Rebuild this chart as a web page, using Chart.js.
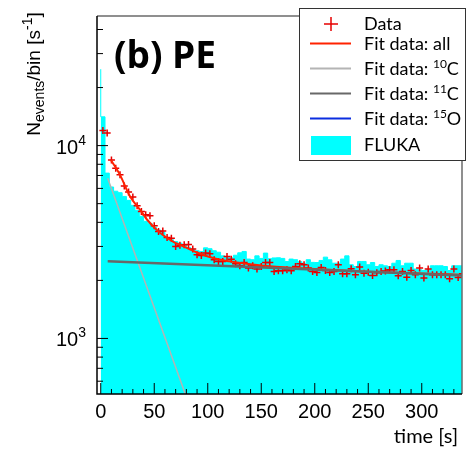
<!DOCTYPE html>
<html>
<head>
<meta charset="utf-8">
<script src="https://cdn.jsdelivr.net/npm/chart.js@4.4.0/dist/chart.umd.min.js"></script>
<style>
  html, body { margin: 0; padding: 0; background: #fff; }
  canvas { display: block; }
</style>
</head>
<body>
<canvas id="chart" width="475" height="449"></canvas>
<script>
// bin centres (s), bins are 4 s wide
const timeCenters = [2, 6, 10, 14, 18, 22, 26, 30, 34, 38, 42, 46, 50, 54, 58, 62, 66, 70, 74, 78,
  82, 86, 90, 94, 98, 102, 106, 110, 114, 118, 122, 126, 130, 134, 138, 142, 146, 150, 154, 158,
  162, 166, 170, 174, 178, 182, 186, 190, 194, 198, 202, 206, 210, 214, 218, 222, 226, 230, 234, 238,
  242, 246, 250, 254, 258, 262, 266, 270, 274, 278, 282, 286, 290, 294, 298, 302, 306, 310, 314, 318,
  322, 326, 330, 334, 338];

// FLUKA simulation histogram
const flukaCounts = [24900, 14100, 7200, 6100, 5800, 5700, 5450, 5200, 4900, 4600,
  4300, 4050, 3950, 3780, 3650, 3550, 3330, 3250, 3180, 3120,
  3050, 2960, 2900, 2850, 2820, 2950, 2920, 2850, 2800, 2680,
  2640, 2620, 2700, 2780, 2825, 2580, 2560, 2680, 2600, 2770,
  2590, 2615, 2620, 2600, 2507, 2580, 2560, 2500, 2450, 2560,
  2480, 2476, 2537, 2640, 2557, 2455, 2455, 2580, 2680, 2410,
  2361, 2507, 2507, 2410, 2476, 2361, 2410, 2380, 2361, 2455,
  2537, 2381, 2455, 2455, 2290, 2270, 2250, 2270, 2381, 2381,
  2381, 2361, 2250, 2381, 2381];

// measured data
const dataCounts = [11960, 11640, 8430, 7640, 7050, 6180, 5740, 5410, 4870, 4550,
  4375, 4325, 3845, 3580, 3610, 3335, 3310, 3000, 3040, 3060,
  3070, 2905, 2715, 2693, 2770, 2750, 2557, 2507, 2507, 2663,
  2577, 2438, 2381, 2476, 2317, 2381, 2290, 2361, 2476, 2476,
  2225, 2243, 2243, 2270, 2243, 2361, 2438, 2410, 2317, 2225,
  2199, 2333, 2251, 2199, 2225, 2410, 2163, 2163, 2297, 2138,
  2344, 2181, 2207, 2119, 2190, 2225, 2234, 2270, 2270, 2112,
  2225, 2078, 2251, 2138, 2317, 2055, 2290, 2138, 2138, 2138,
  2138, 2037, 2290, 2070, 2163];

// fit curves
const fitTime = [9.5, 18, 27, 38, 43, 54, 58, 68, 74, 90, 105, 120, 136, 167, 200, 250, 300, 338];
const fitAll = [8430, 7050, 5500, 4550, 4150, 3580, 3440, 3170, 3060, 2790, 2610, 2510, 2440, 2345, 2290, 2220, 2170, 2140];
const c10Time = [6.5, 79];
const c10Fit = [6780, 515];
const c11Time = [6.5, 338];
const c11Fit = [2515, 2120];
const o15Time = [];
const o15Fit = [];

const xLabels = [0, 50, 100, 150, 200, 250, 300];
const yLabels = [1000, 10000];
const binWidth = 4;

const pts = (xs, ys) => xs.map((x, i) => ({ x: x, y: ys[i] }));

// histogram as a stepped line through the left bin edges
const histPoints = timeCenters.map((t, i) => ({ x: t - binWidth / 2, y: flukaCounts[i] }));
histPoints.push({ x: timeCenters[timeCenters.length - 1] + binWidth / 2, y: flukaCounts[flukaCounts.length - 1] });

const SANS = '"Liberation Sans", Arial, sans-serif';
const CAL = 'Lato, "Open Sans", sans-serif';

function richText(ctx, parts, x, y, align) {
    let w = 0;
    parts.forEach(p => { ctx.font = p.font; w += ctx.measureText(p.t).width; });
    let cx = align === 'right' ? x - w : align === 'center' ? x - w / 2 : x;
    ctx.textAlign = 'left';
    ctx.textBaseline = 'alphabetic';
    parts.forEach(p => {
        ctx.font = p.font;
        ctx.fillText(p.t, cx, y + (p.dy || 0));
        cx += ctx.measureText(p.t).width;
    });
}

const decor = {
    id: 'decor',
    afterDraw(chart) {
        const ctx = chart.ctx;
        const a = chart.chartArea;
        const xs = chart.scales.x, ys = chart.scales.y;
        ctx.save();

        // frame (top/right)
        ctx.strokeStyle = '#6b6b6b';
        ctx.lineWidth = 1.5;
        ctx.beginPath();
        ctx.moveTo(a.left, a.top);
        ctx.lineTo(a.right, a.top);
        ctx.lineTo(a.right, a.bottom);
        ctx.stroke();

        // axes
        ctx.strokeStyle = '#000';
        ctx.lineWidth = 1.5;
        ctx.beginPath();
        ctx.moveTo(a.left, a.top);
        ctx.lineTo(a.left, a.bottom);
        ctx.lineTo(a.right, a.bottom);
        ctx.stroke();

        // inward ticks
        ctx.lineWidth = 1;
        ctx.beginPath();
        xs.ticks.forEach(t => {
            const px = xs.getPixelForValue(t.value);
            if (px < a.left || px > a.right) return;
            const len = t.value % 50 === 0 ? 11 : 5;
            ctx.moveTo(px, a.bottom);
            ctx.lineTo(px, a.bottom - len);
        });
        ys.ticks.forEach(t => {
            const e = Math.floor(Math.log10(t.value) + 1e-9);
            const m = t.value / Math.pow(10, e);
            if (Math.abs(m - Math.round(m)) > 1e-6) return;
            const py = ys.getPixelForValue(t.value);
            if (py < a.top || py > a.bottom) return;
            const len = Math.round(m) === 1 ? 11 : 6;
            ctx.moveTo(a.left, py);
            ctx.lineTo(a.left + len, py);
        });
        ctx.stroke();

        // tick labels
        ctx.fillStyle = '#000';
        ctx.font = '20px ' + SANS;
        ctx.textAlign = 'center';
        ctx.textBaseline = 'alphabetic';
        xLabels.forEach(v => ctx.fillText(String(v), xs.getPixelForValue(v), 418));
        yLabels.forEach(v => {
            const py = ys.getPixelForValue(v);
            richText(ctx, [
                { t: '10', font: '20px ' + SANS },
                { t: String(Math.round(Math.log10(v))), font: '14px ' + SANS, dy: -9 }
            ], 86, py + 8, 'right');
        });

        // axis titles
        ctx.save();
        ctx.translate(39.5, 74);
        ctx.rotate(-Math.PI / 2);
        richText(ctx, [
            { t: 'N', font: '19px ' + SANS },
            { t: 'events', font: '14px ' + SANS, dy: 4 },
            { t: '/bin [s', font: '19px ' + SANS },
            { t: '-1', font: '14px ' + SANS, dy: -8 },
            { t: ']', font: '19px ' + SANS }
        ], 0, 0, 'center');
        ctx.restore();

        ctx.font = '20px ' + CAL;
        ctx.textAlign = 'right';
        ctx.fillText('time [s]', 458, 443);

        // panel label
        ctx.font = 'bold 37px "Open Sans", sans-serif';
        ctx.textAlign = 'left';
        ctx.fillText('(b) PE', 114, 68);

        // legend
        const ds = chart.data.datasets;
        ctx.fillStyle = '#fff';
        ctx.fillRect(299.5, 8.5, 166, 152);
        ctx.strokeStyle = '#333';
        ctx.lineWidth = 1;
        ctx.strokeRect(299.5, 8.5, 166, 152);

        const tx = 364;
        // Data marker
        ctx.strokeStyle = ds[1].borderColor;
        ctx.lineWidth = 1.5;
        ctx.beginPath();
        ctx.moveTo(324, 24); ctx.lineTo(338, 24);
        ctx.moveTo(331, 17); ctx.lineTo(331, 31);
        ctx.stroke();
        const lineRows = [
            { y: 43.5, d: ds[2] },
            { y: 68.5, d: ds[3] },
            { y: 93.5, d: ds[4] },
            { y: 118.5, d: ds[5] }
        ];
        lineRows.forEach(r => {
            ctx.strokeStyle = r.d.borderColor;
            ctx.lineWidth = 2;
            ctx.beginPath();
            ctx.moveTo(310, r.y); ctx.lineTo(351, r.y);
            ctx.stroke();
        });
        ctx.fillStyle = ds[0].backgroundColor;
        ctx.fillRect(311, 136, 40, 19);

        ctx.fillStyle = '#000';
        const F = '18px ' + CAL, S = '12px ' + CAL;
        richText(ctx, [{ t: 'Data', font: F }], tx, 30, 'left');
        richText(ctx, [{ t: 'Fit data: all', font: F }], tx, 50, 'left');
        richText(ctx, [{ t: 'Fit data: ', font: F }, { t: '10', font: S, dy: -7 }, { t: 'C', font: F }], tx, 75, 'left');
        richText(ctx, [{ t: 'Fit data: ', font: F }, { t: '11', font: S, dy: -7 }, { t: 'C', font: F }], tx, 100, 'left');
        richText(ctx, [{ t: 'Fit data: ', font: F }, { t: '15', font: S, dy: -7 }, { t: 'O', font: F }], tx, 125, 'left');
        richText(ctx, [{ t: 'FLUKA', font: F }], tx, 151, 'left');

        ctx.restore();
    }
};

new Chart(document.getElementById('chart'), {
    type: 'line',
    data: {
        datasets: [
            {
                label: 'FLUKA',
                data: histPoints,
                stepped: 'after',
                fill: 'start',
                backgroundColor: '#00ffff',
                borderColor: '#00ffff',
                borderWidth: 1,
                pointRadius: 0,
                order: 6
            },
            {
                label: 'Data',
                data: pts(timeCenters, dataCounts),
                showLine: false,
                pointStyle: 'cross',
                pointRadius: 3.5,
                pointBorderWidth: 1.5,
                borderColor: '#e60000',
                backgroundColor: '#e60000',
                order: 3
            },
            {
                label: 'Fit data: all',
                data: pts(fitTime, fitAll),
                borderColor: '#ff2200',
                borderWidth: 2,
                cubicInterpolationMode: 'monotone',
                pointRadius: 0,
                order: 2
            },
            {
                label: 'Fit data: 10C',
                data: pts(c10Time, c10Fit),
                borderColor: '#b4b4b4',
                borderWidth: 1.5,
                pointRadius: 0,
                order: 4
            },
            {
                label: 'Fit data: 11C',
                data: pts(c11Time, c11Fit),
                borderColor: '#686868',
                borderWidth: 2.5,
                pointRadius: 0,
                order: 1
            },
            {
                label: 'Fit data: 15O',
                data: pts(o15Time, o15Fit),
                borderColor: '#0b2ee0',
                borderWidth: 2,
                pointRadius: 0,
                order: 5
            }
        ]
    },
    options: {
        responsive: false,
        animation: false,
        devicePixelRatio: 1,
        layout: { padding: { top: 16, right: 13, left: 0, bottom: 0 } },
        plugins: {
            legend: { display: false },
            tooltip: { enabled: false }
        },
        scales: {
            x: {
                type: 'linear',
                min: -3.5,
                max: 337.6,
                grid: { display: false },
                border: { display: false },
                ticks: { display: false, stepSize: 10, includeBounds: false },
                afterFit: s => { s.height = 55; }
            },
            y: {
                type: 'logarithmic',
                min: 515,
                max: 47000,
                grid: { display: false },
                border: { display: false },
                ticks: { display: false },
                afterFit: s => { s.width = 97; }
            }
        }
    },
    plugins: [decor]
});
</script>
</body>
</html>
